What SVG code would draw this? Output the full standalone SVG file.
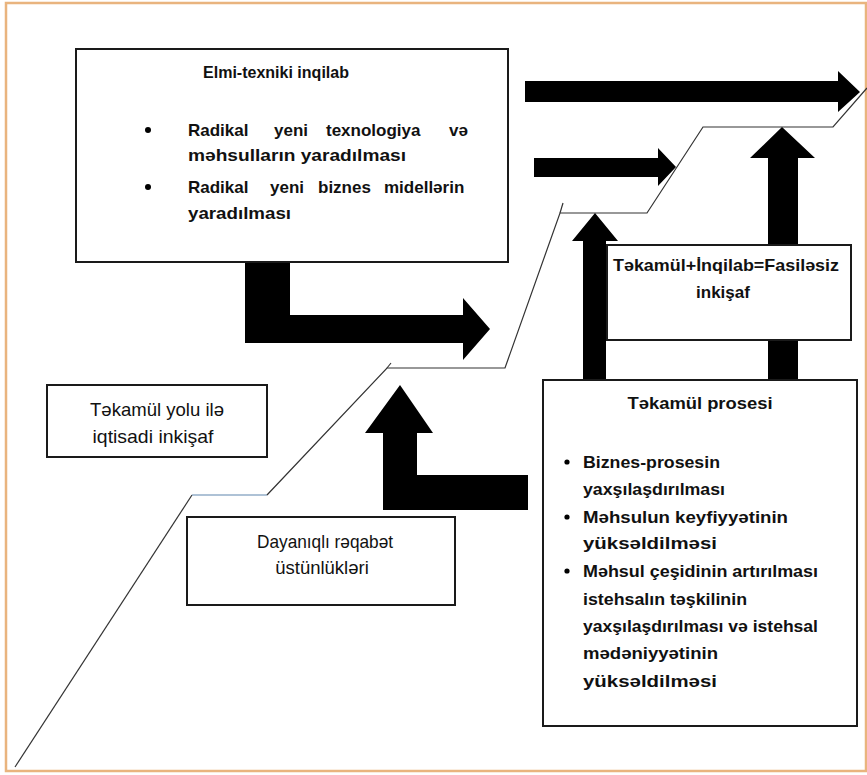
<svg xmlns="http://www.w3.org/2000/svg" width="867" height="775" viewBox="0 0 867 775">
<style>
.box{fill:#fff;stroke:#1a1a1a;stroke-width:2}
.arr{fill:#000}
.ln{fill:none;stroke:#333;stroke-width:1.2}
text{font-family:"Liberation Sans","Noto Sans",sans-serif;fill:#111}
.b{font-weight:bold;font-size:17px}
.r{font-size:18.5px}
.c{text-anchor:middle}
</style>
<rect x="0" y="0" width="867" height="775" fill="#fff"/>
<rect x="6" y="3" width="860" height="768" fill="none" stroke="#e9b47e" stroke-width="2.5"/>

<g id="connectors">
  <polyline class="ln" points="15,767 192,495"/>
  <polyline points="192,495 267,495" fill="none" stroke="#5f86ad" stroke-width="1.2"/>
  <polyline class="ln" points="267,495 387,368 505,368 560,213 647,213 703,127 833,127 867,88"/>
  <line class="ln" x1="387" y1="368" x2="391" y2="363"/>
  <line class="ln" x1="560" y1="213" x2="563" y2="203"/>
  <path class="arr" d="M245,262 H290 V315 H463 V298 L490,329 L463,360 V343 H245 Z"/>
  <path class="arr" d="M525,81 H838 V71 L860,92 L838,112 V102 H525 Z"/>
  <path class="arr" d="M534,158 H658 V148 L676,167 L658,186 V177 H534 Z"/>
  <path class="arr" d="M583,380 V241 H572 L595,213 L618,241 H606 V380 Z"/>
  <path class="arr" d="M768,380 V158 H750 L782,127 L815,158 H798 V380 Z"/>
  <path class="arr" d="M528,475 H417 V433 H433 L400,385 L365,433 H383 V510 H528 Z"/>
</g>

<g id="elmi">
  <rect class="box" x="76" y="49" width="432" height="213"/>
  <text class="b" x="203" y="78" textLength="146" lengthAdjust="spacingAndGlyphs">Elmi-texniki inqilab</text>
  <circle cx="148" cy="130" r="3"/>
  <text class="b" y="136"><tspan x="188">Radikal</tspan><tspan x="274">yeni</tspan><tspan x="326">texnologiya</tspan><tspan x="449">və</tspan></text>
  <text class="b" x="188" y="161" textLength="218" lengthAdjust="spacingAndGlyphs">məhsulların yaradılması</text>
  <circle cx="148" cy="187" r="3"/>
  <text class="b" y="193"><tspan x="188">Radikal</tspan><tspan x="270">yeni</tspan><tspan x="318">biznes</tspan><tspan x="384">midellərin</tspan></text>
  <text class="b" x="188" y="219" textLength="103" lengthAdjust="spacingAndGlyphs">yaradılması</text>
</g>

<g id="fasilesiz">
  <rect class="box" x="607" y="245" width="244" height="95"/>
  <text class="b c" x="726" y="271" textLength="226" lengthAdjust="spacingAndGlyphs">Təkamül+İnqilab=Fasiləsiz</text>
  <text class="b c" x="723" y="298">inkişaf</text>
</g>

<g id="tekamul-prosesi">
  <rect class="box" x="543" y="380" width="314" height="346"/>
  <text class="b c" x="700" y="409" textLength="145" lengthAdjust="spacingAndGlyphs">Təkamül prosesi</text>
  <g>
    <circle cx="567" cy="462" r="2.6"/>
    <circle cx="567" cy="517" r="2.6"/>
    <circle cx="567" cy="571" r="2.6"/>
    <text class="b" x="583" y="468" textLength="137" lengthAdjust="spacingAndGlyphs">Biznes-prosesin</text>
    <text class="b" x="583" y="495" textLength="142" lengthAdjust="spacingAndGlyphs">yaxşılaşdırılması</text>
    <text class="b" x="583" y="523" textLength="205" lengthAdjust="spacingAndGlyphs">Məhsulun keyfiyyətinin</text>
    <text class="b" x="583" y="549" textLength="134" lengthAdjust="spacingAndGlyphs">yüksəldilməsi</text>
    <text class="b" x="583" y="577" textLength="235" lengthAdjust="spacingAndGlyphs">Məhsul çeşidinin artırılması</text>
    <text class="b" x="583" y="605" textLength="164" lengthAdjust="spacingAndGlyphs">istehsalın təşkilinin</text>
    <text class="b" x="583" y="632" textLength="235" lengthAdjust="spacingAndGlyphs">yaxşılaşdırılması və istehsal</text>
    <text class="b" x="583" y="659" textLength="135" lengthAdjust="spacingAndGlyphs">mədəniyyətinin</text>
    <text class="b" x="583" y="687" textLength="134" lengthAdjust="spacingAndGlyphs">yüksəldilməsi</text>
  </g>
</g>

<g id="tekamul-yolu">
  <rect class="box" x="47" y="385" width="220" height="72"/>
  <text class="r c" x="157" y="416" textLength="134" lengthAdjust="spacingAndGlyphs">Təkamül yolu ilə</text>
  <text class="r c" x="153" y="443" textLength="121" lengthAdjust="spacingAndGlyphs">iqtisadi inkişaf</text>
</g>

<g id="dayaniqli">
  <rect class="box" x="187" y="517" width="268" height="88"/>
  <text class="r c" x="325" y="548" textLength="136" lengthAdjust="spacingAndGlyphs">Dayanıqlı rəqabət</text>
  <text class="r c" x="322" y="574">üstünlükləri</text>
</g>
</svg>
